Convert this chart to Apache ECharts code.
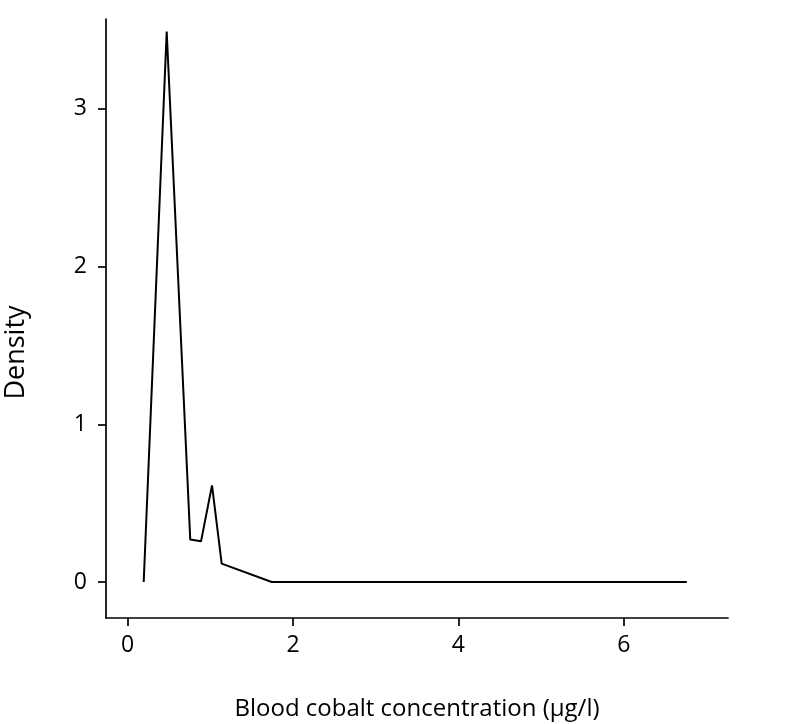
<!DOCTYPE html>
<html>
<head>
<meta charset="utf-8">
<script src="https://cdn.jsdelivr.net/npm/echarts@6/dist/echarts.min.js"></script>
<style>html,body{margin:0;padding:0;background:#fff;}#c{width:799px;height:724px;}</style>
</head>
<body>
<div id="c"></div>
<script>
var xValues = [0.194, 0.472, 0.757, 0.887, 1.02, 1.137, 1.742, 6.762];
var densityValues = [0.0, 3.49, 0.269, 0.258, 0.613, 0.117, 0.0, 0.0];
var xTicks = [0, 2, 4, 6];
var yTicks = [0, 1, 2, 3];
var xTitle = 'Blood cobalt concentration (µg/l)';
var yTitle = 'Density';

var font = '"Open Sans", "Noto Sans", sans-serif';
var chart = echarts.init(document.getElementById('c'), null, {renderer: 'canvas'});
var data = xValues.map(function (x, i) { return [x, densityValues[i]]; });
chart.setOption({
  animation: false,
  backgroundColor: '#fff',
  grid: {left: 106, right: 71, top: 19, bottom: 106, containLabel: false, outerBoundsMode: 'none'},
  xAxis: {
    type: 'value', min: -0.262, max: 7.26,
    name: xTitle, nameLocation: 'middle', nameGap: 79,
    nameTextStyle: {fontFamily: font, fontSize: 24, color: '#000'},
    axisLine: {show: true, onZero: false, lineStyle: {color: '#000', width: 1.7}},
    axisTick: {show: true, length: 8, lineStyle: {color: '#000', width: 1.7}, customValues: xTicks},
    axisLabel: {fontFamily: font, fontSize: 23, color: '#000', margin: 16, customValues: xTicks},
    splitLine: {show: false}
  },
  yAxis: {
    type: 'value', min: -0.228, max: 3.569,
    name: yTitle, nameLocation: 'middle', nameGap: 76, nameRotate: 90,
    nameTextStyle: {fontFamily: font, fontSize: 27, color: '#000', padding: [0, 68, 0, 0]},
    axisLine: {show: true, onZero: false, lineStyle: {color: '#000', width: 1.7}},
    axisTick: {show: true, length: 8, lineStyle: {color: '#000', width: 1.7}, customValues: yTicks},
    axisLabel: {fontFamily: font, fontSize: 23, color: '#000', margin: 19, customValues: yTicks},
    splitLine: {show: false}
  },
  series: [{
    type: 'line', data: data, symbol: 'none',
    lineStyle: {color: '#000', width: 2}
  }]
});
</script>
</body>
</html>
